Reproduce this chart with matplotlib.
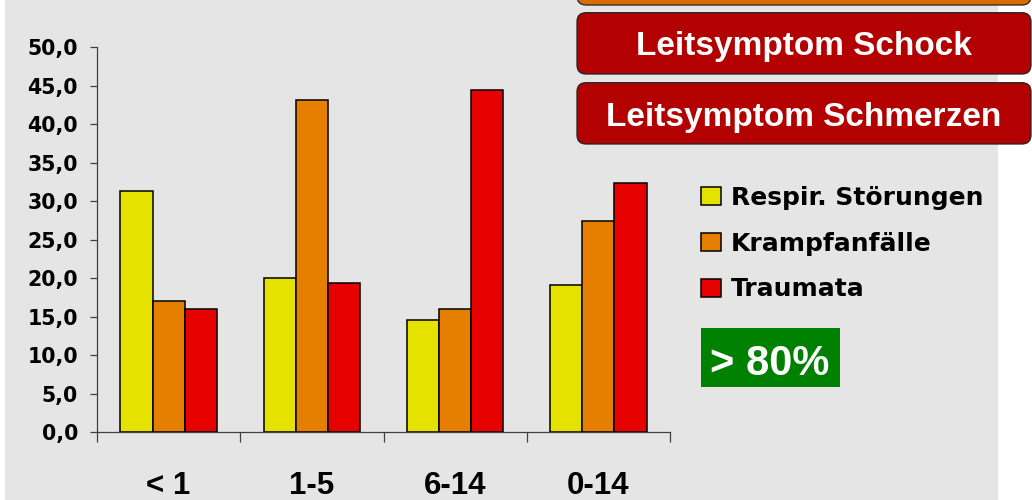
import matplotlib
matplotlib.use("Agg")
import matplotlib.pyplot as plt
import matplotlib.transforms as mtransforms
from matplotlib.patches import Rectangle, FancyBboxPatch
from matplotlib.ticker import FuncFormatter

# data
age_groups = ["< 1", "1-5", "6-14", "0-14"]
series_names = ["Respir. Störungen", "Krampfanfälle", "Traumata"]
respir = [31.4, 20.1, 14.6, 19.1]
krampf = [17.0, 43.1, 16.0, 27.5]
trauma = [16.0, 19.4, 44.4, 32.4]
bar_colors = ["#e6e200", "#e67e00", "#e60000"]
yticks = [0, 5, 10, 15, 20, 25, 30, 35, 40, 45, 50]
box_texts = ["Leitsymptom Schock", "Leitsymptom Schmerzen"]
badge = "> 80%"

W, H = 1032, 500
fig = plt.figure(figsize=(W / 100, H / 100), dpi=100, facecolor="white")
# pixel coords, origin top-left
px = mtransforms.Affine2D().scale(1 / W, -1 / H).translate(0, 1) + fig.transFigure

fig.patches.append(Rectangle((5, 0), 993, H, transform=px, facecolor="#e5e5e5",
                             edgecolor="none", zorder=-2))

ax = fig.add_axes([97 / W, 1 - 432.3 / H, 573 / W, 385 / H])
ax.set_facecolor("none")

series = [respir, krampf, trauma]
bw = 0.225
for k, vals in enumerate(series):
    xs = [i + 0.5 + (k - 1) * bw for i in range(len(age_groups))]
    ax.bar(xs, vals, width=bw, color=bar_colors[k], edgecolor="black",
           linewidth=1.1, label=series_names[k], zorder=3)

ax.set_xlim(0, len(age_groups))
ax.set_ylim(0, 50)
ax.set_yticks(yticks)
ax.yaxis.set_major_formatter(FuncFormatter(lambda v, p: f"{v:.1f}".replace(".", ",")))
ax.set_xticks([i + 0.5 for i in range(len(age_groups))])
ax.set_xticklabels(age_groups, fontfamily="Liberation Sans",
                   fontweight="bold", fontsize=22.5)
ax.set_xticks(range(len(age_groups) + 1), minor=True)

for s in ["top", "right"]:
    ax.spines[s].set_visible(False)
for s in ["left", "bottom"]:
    ax.spines[s].set_color("#404040")
    ax.spines[s].set_linewidth(0.9)

ax.tick_params(axis="x", which="major", length=0, pad=28)
ax.tick_params(axis="x", which="minor", length=7.5, width=0.9, color="#404040", direction="out")
ax.tick_params(axis="y", length=5, width=0.9, color="#404040", pad=8.6)
for t in ax.get_yticklabels():
    t.set_fontfamily("DejaVu Sans")
    t.set_fontweight("bold")
    t.set_fontsize(14.8)

leg = ax.legend(loc="upper left", bbox_to_anchor=(701, 186), bbox_transform=px,
                frameon=False, borderpad=0, borderaxespad=0,
                handlelength=0.8, handleheight=0.71, handletextpad=0.4,
                labelspacing=0.87,
                prop={"family": "DejaVu Sans", "weight": "bold", "size": 18})

# symptom boxes (the top one is cut off by the slide edge)
boxes = [(-70, 5, "#d96c00"), (12.7, 74, "#b30000"), (82.7, 144, "#b30000")]
for y0, y1, col in boxes:
    p = FancyBboxPatch((577, y0), 454, y1 - y0, boxstyle="round,pad=0,rounding_size=9",
                       transform=px, facecolor=col, edgecolor="#222222",
                       linewidth=0.9, zorder=5)
    fig.patches.append(p)
for y, txt in zip([55.3, 125.7], box_texts):
    fig.text(804, y, txt, transform=px, ha="center", va="baseline", color="white",
             fontfamily="Liberation Sans", fontweight="bold", fontsize=24, zorder=6)

fig.patches.append(Rectangle((701, 328), 139, 59, transform=px, facecolor="#008000",
                             edgecolor="none", zorder=5))
fig.text(770, 375, badge, transform=px, ha="center", va="baseline", color="white",
         fontfamily="Liberation Sans", fontweight="bold", fontsize=30, zorder=6)

fig.savefig("out.png", dpi=100, facecolor=fig.get_facecolor())
